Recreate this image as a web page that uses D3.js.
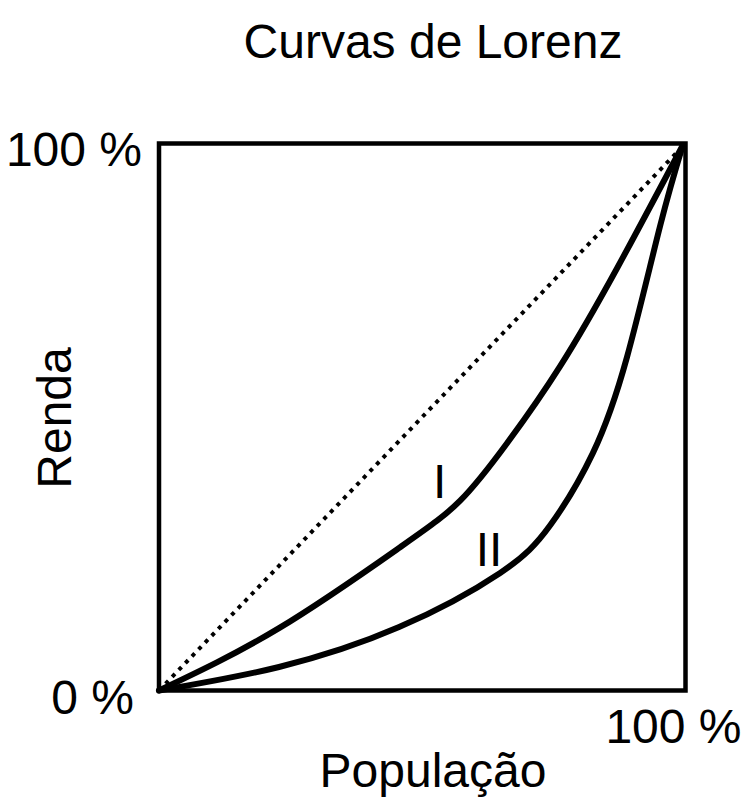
<!DOCTYPE html>
<html>
<head>
<meta charset="utf-8">
<script src="https://cdn.jsdelivr.net/npm/d3@7"></script>
<style>
  html, body { margin: 0; padding: 0; background: #fff; }
  svg text { font-family: "Liberation Sans", Arial, Helvetica, sans-serif; fill: #000; }
</style>
</head>
<body>
<svg id="chart" width="746" height="802"></svg>
<script>
// ---- data (fractions of population / income) ----
const title = "Curvas de Lorenz";
const xAxisTitle = "População";
const yAxisTitle = "Renda";
const tickLabels = ["0 %", "100 %"];
const equalityLine = [[0, 0], [1, 1]];
const curveI = [
  [0, 0], [0.228, 0.114], [0.458, 0.262], [0.572, 0.347], [0.661, 0.452],
  [0.762, 0.593], [0.870, 0.772], [0.995, 0.997]
];
const curveII = [
  [0, 0], [0.228, 0.043], [0.456, 0.116], [0.648, 0.215], [0.743, 0.302],
  [0.824, 0.434], [0.889, 0.610], [0.952, 0.850], [0.995, 0.997]
];
const curveLabels = [
  { text: "I", pos: [0.533, 0.352] },
  { text: "II", pos: [0.627, 0.228] }
];

// ---- layout ----
const svg = d3.select("#chart");
const x = d3.scaleLinear().domain([0, 1]).range([159, 685.5]);
const y = d3.scaleLinear().domain([0, 1]).range([690.5, 143.5]);
const fs = 48;

// frame
svg.append("rect")
  .attr("x", x(0)).attr("y", y(1))
  .attr("width", x(1) - x(0)).attr("height", y(0) - y(1))
  .attr("fill", "none").attr("stroke", "#000").attr("stroke-width", 4.5);

const line = d3.line().x(d => x(d[0])).y(d => y(d[1]));
const smooth = d3.line().x(d => x(d[0])).y(d => y(d[1])).curve(d3.curveNatural);

// equality line (dotted)
svg.append("path")
  .attr("d", line(equalityLine))
  .attr("fill", "none").attr("stroke", "#000")
  .attr("stroke-width", 4).attr("stroke-dasharray", "4 5.5");

// Lorenz curves
[curveI, curveII].forEach(c => {
  svg.append("path")
    .attr("d", smooth(c))
    .attr("fill", "none").attr("stroke", "#000")
    .attr("stroke-width", 6).attr("stroke-linejoin", "round").attr("stroke-linecap", "round");
});

// curve labels
svg.selectAll("text.curve-label").data(curveLabels).enter().append("text")
  .attr("class", "curve-label")
  .attr("x", d => x(d.pos[0])).attr("y", d => y(d.pos[1]))
  .attr("text-anchor", "middle").attr("font-size", fs)
  .text(d => d.text);

// title
svg.append("text").attr("x", 433).attr("y", 58)
  .attr("text-anchor", "middle").attr("font-size", fs).text(title);

// tick labels
svg.append("text").attr("x", x(1) + 56).attr("y", y(0) + 52)
  .attr("text-anchor", "end").attr("font-size", fs).text(tickLabels[1]);
svg.append("text").attr("x", x(0) - 25).attr("y", y(0) + 23)
  .attr("text-anchor", "end").attr("font-size", fs).text(tickLabels[0]);
svg.append("text").attr("x", x(0) - 17).attr("y", y(1) + 22)
  .attr("text-anchor", "end").attr("font-size", fs).text(tickLabels[1]);

// axis titles
svg.append("text").attr("x", 433).attr("y", 787)
  .attr("text-anchor", "middle").attr("font-size", fs).text(xAxisTitle);
svg.append("text")
  .attr("transform", "translate(71,418) rotate(-90)")
  .attr("text-anchor", "middle").attr("font-size", fs).text(yAxisTitle);
</script>
</body>
</html>
